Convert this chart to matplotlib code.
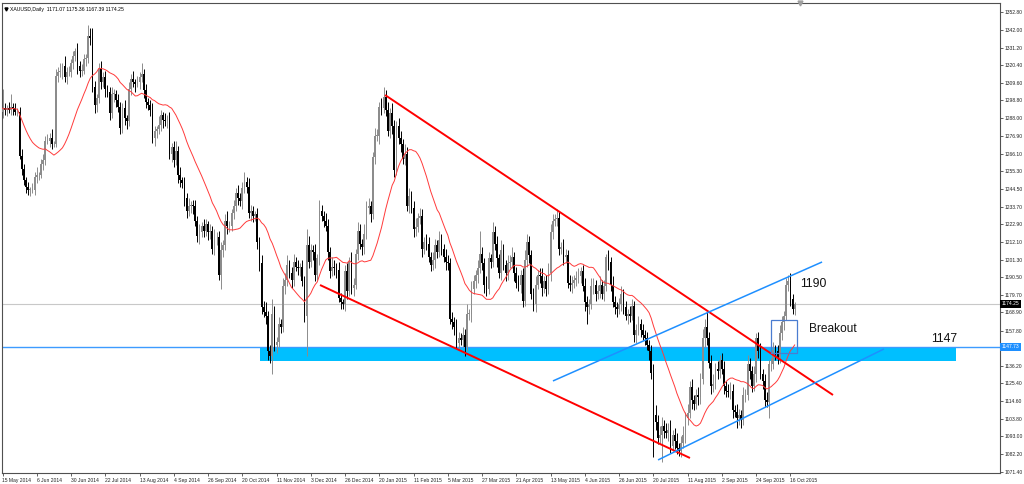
import numpy as np
import pandas as pd
import matplotlib
matplotlib.use("Agg")
import matplotlib.pyplot as plt
from matplotlib.patches import Rectangle
import matplotlib.transforms as mtransforms

# ---------------- data (XAUUSD daily) ----------------
closes = [
    1294, 1293, 1294, 1293, 1295, 1294, 1292, 1292, 1265, 1257,
    1250, 1246, 1244, 1244, 1244, 1252, 1253, 1253, 1260, 1262,
    1274, 1274, 1276, 1272, 1272, 1314, 1316, 1317, 1320, 1313,
    1316, 1316, 1322, 1326, 1329, 1320, 1317, 1317, 1324, 1325,
    1338, 1337, 1307, 1296, 1300, 1318, 1310, 1313, 1306, 1304,
    1291, 1303, 1303, 1299, 1295, 1282, 1294, 1288, 1286, 1306,
    1312, 1310, 1309, 1310, 1313, 1315, 1305, 1298, 1296, 1293,
    1276, 1280, 1281, 1284, 1290, 1287, 1286, 1287, 1266, 1270,
    1262, 1268, 1253, 1250, 1248, 1239, 1231, 1234, 1235, 1234,
    1225, 1216, 1218, 1222, 1219, 1223, 1218, 1219, 1208, 1215,
    1215, 1192, 1207, 1210, 1225, 1222, 1222, 1230, 1234, 1242,
    1239, 1237, 1245, 1249, 1246, 1230, 1231, 1228, 1229, 1212,
    1199, 1172, 1169, 1167, 1145, 1142, 1168, 1149, 1151, 1162,
    1160, 1185, 1189, 1198, 1193, 1189, 1200, 1197, 1196, 1197,
    1188, 1167, 1210, 1200, 1207, 1206, 1192, 1202, 1231, 1228,
    1225, 1222, 1206, 1194, 1197, 1196, 1195, 1178, 1175, 1174,
    1194, 1182, 1200, 1184, 1186, 1205, 1219, 1211, 1209, 1217,
    1233, 1234, 1229, 1264, 1277, 1277, 1295, 1294, 1301, 1293,
    1280, 1291, 1283, 1256, 1283, 1276, 1272, 1263, 1266, 1234,
    1240, 1233, 1220, 1221, 1227, 1228, 1208, 1212, 1211, 1203,
    1198, 1201, 1210, 1206, 1213, 1208, 1203, 1200, 1199, 1165,
    1163, 1160, 1150, 1153, 1152, 1155, 1148, 1168, 1168, 1183,
    1188, 1192, 1196, 1205, 1199, 1186, 1183, 1202, 1200, 1218,
    1211, 1202, 1193, 1207, 1198, 1193, 1199, 1200, 1203, 1193,
    1187, 1186, 1192, 1176, 1201, 1212, 1204, 1180, 1174, 1186,
    1192, 1191, 1184, 1188, 1183, 1193, 1218, 1225, 1226, 1227,
    1208, 1209, 1203, 1204, 1187, 1186, 1187, 1189, 1190, 1191,
    1194, 1185, 1175, 1172, 1174, 1185, 1186, 1180, 1182, 1186,
    1180, 1185, 1203, 1200, 1186, 1175, 1172, 1171, 1174, 1180,
    1172, 1167, 1168, 1167, 1173, 1155, 1158, 1162, 1158, 1155,
    1153, 1149, 1145, 1132, 1106, 1102, 1092, 1094, 1099, 1096,
    1095, 1097, 1087, 1094, 1090, 1086, 1084, 1089, 1094, 1104,
    1107, 1123, 1115, 1113, 1118, 1117, 1128, 1153, 1160, 1153,
    1138, 1124, 1125, 1134, 1133, 1140, 1134, 1124, 1121, 1120,
    1121, 1109, 1108, 1104, 1106, 1103, 1118, 1118, 1137, 1133,
    1124, 1131, 1153, 1145, 1131, 1127, 1115, 1114, 1137, 1137,
    1146, 1145, 1141, 1156, 1163, 1167, 1186, 1188, 1177, 1171,
    1174.25,
]

wick_up = [
    12, 3, 2, 4, 8, 2, 3, 2, 3, 4,
    3, 2, 3, 2, 4, 3, 5, 2, 3, 4,
    3, 4, 3, 5, 2, 4, 3, 5, 2, 6,
    3, 4, 2, 3, 2, 5, 3, 4, 3, 2,
    7, 5, 6, 4, 3, 4, 5, 3, 4, 2,
    3, 4, 3, 2, 4, 3, 3, 5, 2, 4,
    3, 5, 2, 4, 3, 7, 3, 4, 2, 3,
    4, 3, 2, 5, 3, 2, 4, 3, 5, 3,
    4, 6, 3, 5, 2, 4, 3, 5, 2, 3,
    4, 3, 5, 2, 4, 3, 2, 4, 3, 5,
    3, 4, 5, 3, 4, 6, 3, 2, 4, 3,
    5, 3, 4, 6, 3, 5, 4, 3, 2, 4,
    3, 5, 4, 6, 3, 4, 9, 5, 3, 4,
    3, 5, 4, 6, 3, 4, 5, 3, 4, 2,
    4, 3, 10, 6, 4, 3, 5, 3, 7, 4,
    3, 5, 4, 3, 6, 4, 3, 5, 3, 2,
    4, 5, 3, 6, 4, 3, 5, 4, 3, 6,
    4, 5, 3, 3, 5, 4, 3, 5, 6, 4,
    5, 3, 6, 4, 3, 5, 4, 3, 6, 4,
    5, 3, 4, 6, 3, 5, 4, 3, 5, 4,
    3, 5, 4, 3, 6, 4, 3, 5, 4, 3,
    4, 3, 5, 4, 3, 5, 4, 6, 3, 5,
    4, 3, 5, 14, 4, 3, 5, 4, 3, 6,
    4, 5, 3, 6, 4, 3, 5, 4, 6, 3,
    4, 5, 3, 4, 6, 5, 4, 3, 4, 5,
    3, 4, 5, 3, 4, 6, 5, 4, 3, 5,
    4, 3, 5, 4, 3, 5, 4, 3, 4, 5,
    3, 4, 5, 4, 3, 5, 4, 3, 4, 5,
    3, 4, 2, 4, 3, 5, 4, 3, 4, 5,
    3, 4, 3, 5, 4, 3, 4, 5, 3, 4,
    3, 4, 3, 4, 5, 6, 4, 5, 6, 4,
    5, 4, 6, 3, 4, 5, 3, 4, 5, 4,
    6, 4, 5, 3, 4, 5, 4, 6, 5, 10,
    4, 5, 6, 4, 5, 3, 4, 5, 3, 4,
    5, 4, 3, 5, 4, 3, 5, 4, 6, 4,
    3, 5, 3, 4, 5, 3, 4, 5, 3, 4,
    5, 3, 4, 5, 4, 3, 4, 4, 5, 3,
    1.11,
]

wick_dn = [
    4, 3, 4, 2, 3, 4, 2, 3, 2, 4,
    3, 4, 3, 4, 2, 3, 4, 3, 2, 4,
    3, 2, 4, 3, 2, 2, 4, 3, 5, 3,
    4, 2, 3, 4, 3, 5, 4, 3, 2, 4,
    3, 4, 3, 5, 4, 3, 4, 3, 5, 3,
    4, 3, 5, 4, 3, 4, 3, 4, 5, 3,
    4, 3, 5, 2, 4, 3, 5, 4, 3, 4,
    3, 5, 4, 3, 4, 5, 3, 4, 3, 5,
    4, 3, 5, 4, 3, 5, 4, 3, 4, 5,
    3, 4, 5, 3, 4, 3, 5, 4, 3, 4,
    5, 3, 9, 4, 3, 5, 4, 3, 4, 3,
    4, 3, 5, 3, 4, 3, 5, 4, 3, 4,
    5, 4, 3, 5, 5, 4, 11, 4, 5, 3,
    4, 3, 5, 4, 3, 5, 4, 3, 4, 5,
    3, 4, 25, 4, 3, 5, 4, 3, 4, 3,
    4, 3, 5, 4, 3, 4, 5, 3, 4, 3,
    4, 5, 3, 4, 5, 3, 4, 3, 5, 4,
    3, 4, 5, 3, 4, 3, 5, 4, 3, 4,
    3, 4, 5, 4, 3, 4, 5, 3, 4, 3,
    4, 3, 5, 4, 3, 4, 5, 3, 4, 3,
    4, 3, 5, 4, 3, 4, 3, 5, 4, 3,
    4, 5, 3, 4, 3, 4, 6, 3, 4, 5,
    3, 4, 5, 3, 4, 5, 4, 3, 4, 3,
    4, 5, 3, 4, 3, 5, 4, 3, 4, 5,
    3, 4, 5, 4, 3, 4, 5, 3, 4, 5,
    3, 4, 5, 3, 4, 3, 5, 4, 3, 4,
    4, 3, 5, 4, 3, 4, 5, 3, 4, 3,
    4, 3, 5, 10, 4, 3, 5, 4, 3, 4,
    3, 4, 3, 5, 4, 3, 4, 5, 3, 4,
    4, 3, 5, 4, 3, 4, 5, 3, 4, 3,
    4, 3, 5, 4, 26, 5, 4, 3, 17, 4,
    3, 5, 4, 3, 5, 4, 3, 4, 3, 5,
    4, 3, 5, 4, 3, 5, 4, 3, 5, 4,
    3, 5, 4, 3, 5, 4, 3, 5, 4, 3,
    4, 5, 3, 6, 4, 5, 3, 4, 3, 5,
    4, 3, 5, 4, 3, 5, 4, 3, 10, 4,
    3, 5, 4, 3, 4, 5, 3, 4, 4, 3,
    3.68,
]

first_open = 1292.0
last_open = 1171.07
ma_period = 21

date_labels = [
    "15 May 2014", "6 Jun 2014", "30 Jun 2014", "22 Jul 2014", "13 Aug 2014",
    "4 Sep 2014", "26 Sep 2014", "20 Oct 2014", "11 Nov 2014", "3 Dec 2014",
    "26 Dec 2014", "20 Jan 2015", "11 Feb 2015", "5 Mar 2015", "27 Mar 2015",
    "21 Apr 2015", "13 May 2015", "4 Jun 2015", "26 Jun 2015", "20 Jul 2015",
    "11 Aug 2015", "2 Sep 2015", "24 Sep 2015", "16 Oct 2015",
]
bars_per_label = 16

price_ticks = [1352.80, 1342.00, 1331.20, 1320.40, 1309.60, 1298.80, 1288.00,
               1276.90, 1266.10, 1255.30, 1244.50, 1233.70, 1222.90, 1212.10,
               1201.30, 1190.50, 1179.70, 1168.90, 1157.80, 1136.20, 1125.40,
               1114.60, 1103.80, 1093.00, 1082.20, 1071.40]

title_text = "XAUUSD,Daily  1171.07 1175.36 1167.39 1174.25"
bid_price = 1174.25
support_price = 1147.73

# drawn objects (bar index, price)
upper_red = ([178.7, 387.9], [1302.1, 1118.3])
lower_red = ([148.3, 321.1], [1185.7, 1079.7])
upper_blue = ([257.1, 382.8], [1126.9, 1199.8])
lower_blue = ([306.2, 411.7], [1078.5, 1146.5])
zone = (120.3, 445.4, 1139.3, 1147.7)     # x0, x1, y0, y1
breakout_box = (358.8, 371.2, 1143.9, 1164.3)

# ---------------- build OHLC ----------------
c = np.array(closes, dtype=float)
n = len(c)
wu = np.array(wick_up, dtype=float)[:n]
wd = np.array(wick_dn, dtype=float)[:n]
o = np.empty(n)
o[0] = first_open
o[1:] = c[:-1]
o[-1] = last_open
hi = np.maximum(o, c) + wu
lo = np.minimum(o, c) - wd
idx = np.arange(n)
ma = pd.Series(c).rolling(ma_period, min_periods=1).mean().to_numpy()

FONT = "Liberation Sans"
plt.rcParams["font.family"] = [FONT, "DejaVu Sans"]

W, H = 1024, 484
fig = plt.figure(figsize=(W / 100, H / 100), dpi=100)
fig.patch.set_facecolor("white")
ax_l, ax_r, ax_t, ax_b = 1.5, 1000.0, 3.0, 473.0
ax = fig.add_axes([ax_l / W, (H - ax_b) / H, (ax_r - ax_l) / W, (ax_b - ax_t) / H])
ax.set_facecolor("white")

spacing = 2.141
ax.set_xlim(-1.0 / spacing, (ax_r - ax_l - 1.0) / spacing)
ax.set_ylim(1070.5, 1358.5)

# zone + horizontal lines (behind candles)
ax.add_patch(Rectangle((zone[0], zone[2]), zone[1] - zone[0], zone[3] - zone[2],
                       facecolor="#00bfff", edgecolor="none", zorder=1))
ax.axhline(bid_price, color="#c8c8c8", lw=0.8, zorder=1.5)
ax.axhline(support_price, color="#3d9bff", lw=1.0, zorder=1.6)

# candles
up = c >= o
colors = np.where(up, "#8c8c8c", "#000000")
ax.vlines(idx, lo, hi, colors=colors, linewidth=0.7, zorder=3)
body = np.maximum(np.abs(c - o), 0.35)
ax.bar(idx, body, bottom=np.minimum(o, c), width=0.8, color=colors,
       linewidth=0, zorder=3)

# moving average
ax.plot(idx, ma, color="#ff3a3a", lw=0.7, zorder=4)

# trend lines
ax.plot(*upper_red, color="#ff0000", lw=1.4, zorder=5, solid_capstyle="butt")
ax.plot(*lower_red, color="#ff0000", lw=1.4, zorder=5, solid_capstyle="butt")
ax.plot(*upper_blue, color="#1e8fff", lw=1.1, zorder=5, solid_capstyle="butt")
ax.plot(*lower_blue, color="#1e8fff", lw=1.1, zorder=5, solid_capstyle="butt")

bx0, bx1, by0, by1 = breakout_box
ax.add_patch(Rectangle((bx0, by0), bx1 - bx0, by1 - by0, facecolor="none",
                       edgecolor="#4a7cd0", lw=0.9, zorder=6))

# annotations
ax.text(372.5, 1186.3, "1190", fontsize=8.8, color="#111111", ha="left",
        va="center", family=FONT, zorder=7)
ax.text(376.6, 1158.7, "Breakout", fontsize=8.6, color="#111111", ha="left",
        va="center", family=FONT, zorder=7)
ax.text(433.9, 1152.6, "1147", fontsize=8.8, color="#111111", ha="left",
        va="center", family=FONT, zorder=7)

# title
ax.plot([0.0045], [0.987], marker="v", color="black", markersize=2.2,
        transform=ax.transAxes, clip_on=False, zorder=8)
ax.text(0.0085, 0.987, title_text, transform=ax.transAxes, fontsize=3.7,
        ha="left", va="center", color="black", family=FONT, zorder=8)

# shift marker at the top
ax.plot([372.5], [1.0], marker="v", color="#a0a0a0", markersize=3.5,
        transform=mtransforms.blended_transform_factory(ax.transData, ax.transAxes),
        clip_on=False, zorder=8)

# axes styling
for s in ax.spines.values():
    s.set_color("#505050")
    s.set_linewidth(0.8)

ax.yaxis.tick_right()
ax.set_yticks(price_ticks)
ax.set_yticklabels([f"{v:.2f}" for v in price_ticks])
ax.tick_params(axis="y", which="both", direction="out", length=2.5, width=0.5,
               pad=1.0, labelsize=3.6, colors="#222222", left=False, right=True)

xt = [i * bars_per_label for i in range(len(date_labels))]
ax.set_xticks(xt)
ax.set_xticklabels(date_labels)
ax.tick_params(axis="x", which="both", direction="out", length=2.5, width=0.5,
               pad=1.0, labelsize=3.6, colors="#222222", top=False, bottom=True)
for lab in ax.get_xticklabels():
    lab.set_horizontalalignment("left")

# highlighted price labels on the price axis
blend = mtransforms.blended_transform_factory(ax.transAxes, ax.transData)
ax.text(1.0015, bid_price, f"{bid_price:.2f}", transform=blend, fontsize=3.6,
        color="white", ha="left", va="center", family=FONT, zorder=9,
        bbox=dict(boxstyle="square,pad=0.3", fc="black", ec="none"), clip_on=False)
ax.text(1.0015, support_price, f"{support_price:.2f}", transform=blend,
        fontsize=3.6, color="white", ha="left", va="center", family=FONT,
        zorder=9, bbox=dict(boxstyle="square,pad=0.3", fc="#1e8fff", ec="none"),
        clip_on=False)

fig.savefig("out.png", dpi=100, facecolor="white")
